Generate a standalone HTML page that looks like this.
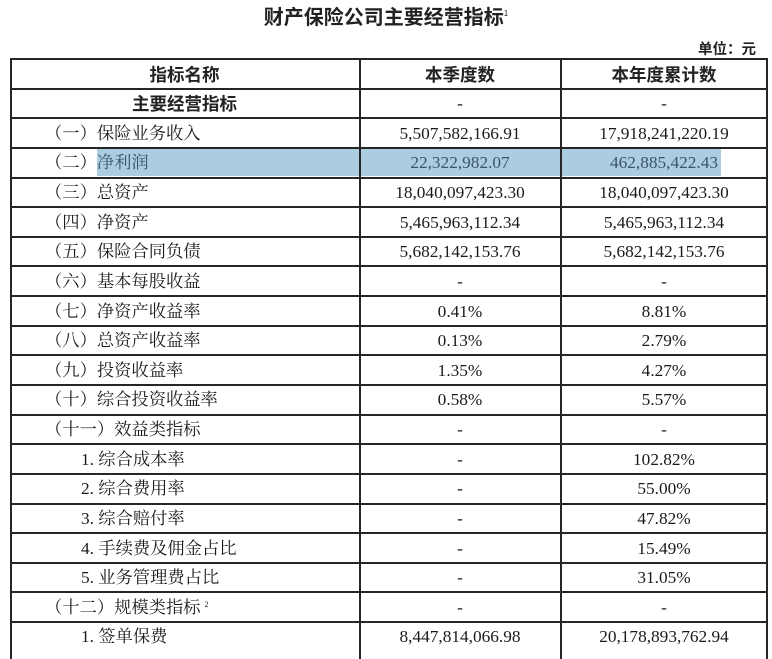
<!DOCTYPE html>
<html><head><meta charset="utf-8">
<style>
html,body{margin:0;padding:0;background:#fff;}
body{width:772px;height:649px;position:relative;overflow:hidden;font-family:"Liberation Serif","Noto Serif CJK SC",serif;color:#1a1a1a;}
.t{position:absolute;left:0;top:3px;width:772px;text-align:center;font-family:"Noto Sans CJK SC","WenQuanYi Zen Hei",sans-serif;font-size:20px;font-weight:bold;color:#222;line-height:26px;}
.t sup{font-size:8px;font-weight:normal;vertical-align:top;position:relative;top:-2px;}
.u{position:absolute;left:698px;top:39px;font-family:"Noto Sans CJK SC",sans-serif;font-size:14.5px;font-weight:bold;color:#222;line-height:20px;}
.row{position:absolute;left:0;width:772px;height:29.63px;}
.c{position:absolute;top:0.5px;height:29.63px;line-height:29.63px;white-space:nowrap;font-size:17.3px;}
.c1{left:10px;width:349px;padding-left:35px;box-sizing:border-box;font-family:"Liberation Serif","Noto Serif CJK SC",serif;}
.c1.sub{padding-left:71px;}
.c1.ctr{padding-left:0;text-align:center;}
.c2{left:359px;width:202px;text-align:center;}
.c3{left:561px;width:206px;text-align:center;}
.h{font-family:"Noto Sans CJK SC",sans-serif;font-weight:bold;font-size:17.5px;color:#222;}
.hl{position:absolute;left:97px;top:149px;width:624px;height:27px;background:#aacde2;}
.in{color:#3e5466;}
.hz{position:absolute;height:2px;background:#262626;left:10px;width:758px;}
.vt{position:absolute;width:2px;background:#262626;top:59px;height:600px;}
.sup2{font-size:8px;vertical-align:top;position:relative;top:-3px;margin-left:4px;}
</style></head><body>
<div class="t">财产保险公司主要经营指标<sup>1</sup></div>
<div class="u">单位：元</div>

<div class="hl"></div>

<div class="row" style="top:59px"><div class="c c1 ctr h">指标名称</div><div class="c c2 h">本季度数</div><div class="c c3 h">本年度累计数</div></div>
<div class="row" style="top:88.63px"><div class="c c1 ctr h">主要经营指标</div><div class="c c2">-</div><div class="c c3">-</div></div>
<div class="row" style="top:118.26px"><div class="c c1">（一）保险业务收入</div><div class="c c2">5,507,582,166.91</div><div class="c c3">17,918,241,220.19</div></div>
<div class="row" style="top:147.89px"><div class="c c1">（二）<span class="in">净利润</span></div><div class="c c2 in">22,322,982.07</div><div class="c c3 in">462,885,422.43</div></div>
<div class="row" style="top:177.52px"><div class="c c1">（三）总资产</div><div class="c c2">18,040,097,423.30</div><div class="c c3">18,040,097,423.30</div></div>
<div class="row" style="top:207.15px"><div class="c c1">（四）净资产</div><div class="c c2">5,465,963,112.34</div><div class="c c3">5,465,963,112.34</div></div>
<div class="row" style="top:236.78px"><div class="c c1">（五）保险合同负债</div><div class="c c2">5,682,142,153.76</div><div class="c c3">5,682,142,153.76</div></div>
<div class="row" style="top:266.41px"><div class="c c1">（六）基本每股收益</div><div class="c c2">-</div><div class="c c3">-</div></div>
<div class="row" style="top:296.04px"><div class="c c1">（七）净资产收益率</div><div class="c c2">0.41%</div><div class="c c3">8.81%</div></div>
<div class="row" style="top:325.67px"><div class="c c1">（八）总资产收益率</div><div class="c c2">0.13%</div><div class="c c3">2.79%</div></div>
<div class="row" style="top:355.3px"><div class="c c1">（九）投资收益率</div><div class="c c2">1.35%</div><div class="c c3">4.27%</div></div>
<div class="row" style="top:384.93px"><div class="c c1">（十）综合投资收益率</div><div class="c c2">0.58%</div><div class="c c3">5.57%</div></div>
<div class="row" style="top:414.56px"><div class="c c1">（十一）效益类指标</div><div class="c c2">-</div><div class="c c3">-</div></div>
<div class="row" style="top:444.19px"><div class="c c1 sub">1. 综合成本率</div><div class="c c2">-</div><div class="c c3">102.82%</div></div>
<div class="row" style="top:473.82px"><div class="c c1 sub">2. 综合费用率</div><div class="c c2">-</div><div class="c c3">55.00%</div></div>
<div class="row" style="top:503.45px"><div class="c c1 sub">3. 综合赔付率</div><div class="c c2">-</div><div class="c c3">47.82%</div></div>
<div class="row" style="top:533.08px"><div class="c c1 sub">4. 手续费及佣金占比</div><div class="c c2">-</div><div class="c c3">15.49%</div></div>
<div class="row" style="top:562.71px"><div class="c c1 sub">5. 业务管理费占比</div><div class="c c2">-</div><div class="c c3">31.05%</div></div>
<div class="row" style="top:592.34px"><div class="c c1">（十二）规模类指标<span class="sup2">2</span></div><div class="c c2">-</div><div class="c c3">-</div></div>
<div class="row" style="top:621.97px"><div class="c c1 sub">1. 签单保费</div><div class="c c2">8,447,814,066.98</div><div class="c c3">20,178,893,762.94</div></div>

<div class="hz" style="top:58px"></div>
<div class="hz" style="top:87.6px"></div>
<div class="hz" style="top:117.3px"></div>
<div class="hz" style="top:146.9px"></div>
<div class="hz" style="top:176.5px"></div>
<div class="hz" style="top:206.2px"></div>
<div class="hz" style="top:235.8px"></div>
<div class="hz" style="top:265.4px"></div>
<div class="hz" style="top:295px"></div>
<div class="hz" style="top:324.7px"></div>
<div class="hz" style="top:354.3px"></div>
<div class="hz" style="top:383.9px"></div>
<div class="hz" style="top:413.6px"></div>
<div class="hz" style="top:443.2px"></div>
<div class="hz" style="top:472.8px"></div>
<div class="hz" style="top:502.5px"></div>
<div class="hz" style="top:532.1px"></div>
<div class="hz" style="top:561.7px"></div>
<div class="hz" style="top:591.3px"></div>
<div class="hz" style="top:621px"></div>

<div class="vt" style="left:9.5px"></div>
<div class="vt" style="left:358.5px"></div>
<div class="vt" style="left:560px"></div>
<div class="vt" style="left:766px"></div>
</body></html>
